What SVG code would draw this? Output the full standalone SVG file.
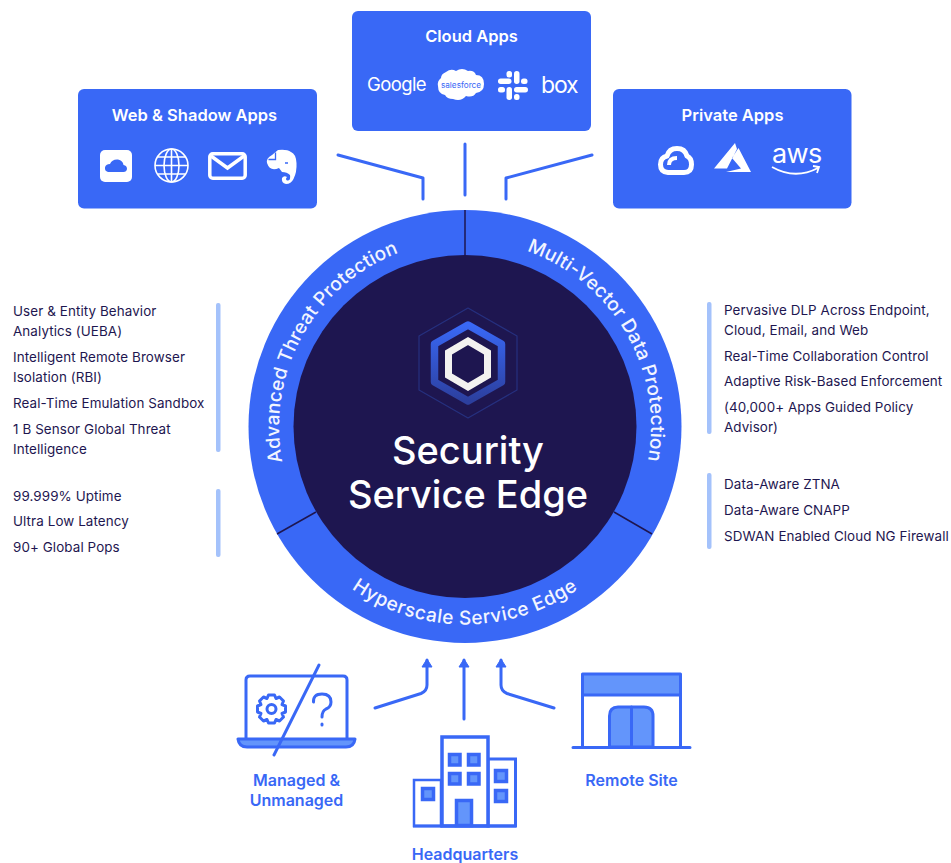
<svg xmlns="http://www.w3.org/2000/svg" width="951" height="863" viewBox="0 0 951 863">
<style>
.box{fill:#3968f6}
.title{font:600 16.500px Inter,"Liberation Sans",sans-serif;fill:#fff;text-anchor:middle}
.lab{font:600 16px Inter,"Liberation Sans",sans-serif;fill:#3968f6;text-anchor:middle}
.li{font:400 13.400px Inter,"Liberation Sans",sans-serif;fill:#1e1650;letter-spacing:.1px}
.bar{fill:#a4c2fb}
.arc{font:500 19px Inter,"Liberation Sans",sans-serif;fill:#f2f5ff;text-anchor:middle;letter-spacing:.2px}
.arcb{letter-spacing:.55px}
.hero{font:500 38px Inter,"Liberation Sans",sans-serif;fill:#fff;text-anchor:middle}
.conn{fill:none;stroke:#3968f6;stroke-width:3;stroke-linecap:round;stroke-linejoin:round}
.ic{fill:none;stroke:#3968f6;stroke-width:3;stroke-linecap:round;stroke-linejoin:round}
.icf{fill:#6395fb;stroke:#3968f6;stroke-width:3;stroke-linejoin:round}
.sq{fill:#6395fb;stroke:#3968f6;stroke-width:3.500}
.w{fill:none;stroke:#fff;stroke-width:1.600}
.wt{fill:#fff;font-family:Inter,"Liberation Sans",sans-serif}
.div{stroke:#1e1650;stroke-width:1.500}
</style>
<defs>
<marker id="ah" markerUnits="userSpaceOnUse" markerWidth="12" markerHeight="12" refX="6" refY="2" orient="0" viewBox="0 0 12 12"><path d="M6 1L11 9H1Z" fill="#3968f6" stroke="#3968f6" stroke-linejoin="round"/></marker>
<linearGradient id="hexg" x1="0" y1="0" x2="0" y2="1"><stop offset="0" stop-color="#3968f6"/><stop offset="1" stop-color="#2c3f9e"/></linearGradient>
<path id="arcL" d="M372 587.600A186 186 0 1 1 558 265.400"/>
<path id="arcR" d="M372 265.400A186 186 0 1 1 558 587.600"/>
<path id="arcB" d="M267 426.500A198 198 0 0 0 663 426.500"/>
</defs>

<g id="ring">
<circle cx="465" cy="426.500" r="216.500" fill="#3968f6"/>
<circle cx="465" cy="426.500" r="171.500" fill="#1e1650"/>
<path class="div" d="M465 210V256M277 534L316 512M614 512L652 534"/>
<text class="arc"><textPath href="#arcL" startOffset="49.500%">Advanced Threat Protection</textPath></text>
<text class="arc"><textPath href="#arcR" startOffset="50%">Multi-Vector Data Protection</textPath></text>
<text class="arc arcb"><textPath href="#arcB" startOffset="50%">Hyperscale Service Edge</textPath></text>
</g>

<g id="core">
<path fill="none" stroke="#26307f" stroke-width="1.200" stroke-linejoin="round" d="M468 308L517 336V390L468 418L419 390V336Z"/>
<path fill="none" stroke="url(#hexg)" stroke-width="7.500" stroke-linejoin="round" d="M468 325L501.500 344V382L468 401L434.500 382V344Z"/>
<path fill="none" stroke="#f3f2f0" stroke-width="7" d="M468 341L487.500 352.500V375.500L468 387L448.500 375.500V352.500Z"/>
<text class="hero" x="468" y="464">Security</text>
<text class="hero" x="468" y="508">Service Edge</text>
</g>

<g id="connectors">
<path class="conn" d="M338 155L423 178V199"/>
<path class="conn" d="M465 144V195"/>
<path class="conn" d="M592 155L506 178V199"/>
<path class="conn" marker-end="url(#ah)" d="M375 708L421 693.500Q427 691 427 685V660"/>
<path class="conn" marker-end="url(#ah)" d="M464 719V660"/>
<path class="conn" marker-end="url(#ah)" d="M554 708L507 693.500Q501 691 501 685V660"/>
</g>

<g id="web-shadow-apps">
<rect class="box" x="78" y="89" width="239" height="119.500" rx="6"/>
<text class="title" x="194.500" y="120.500">Web &amp; Shadow Apps</text>
<rect x="100" y="150" width="32" height="32" rx="5" fill="#fff"/>
<path fill="#3968f6" d="M108 172Q104.500 171 105 167.500Q105.500 164 110 164Q112 159 118 159.500Q123 160.500 123.500 165Q127 165.500 127 169Q126.500 172 123.500 172Z"/>
<g class="w"><circle cx="171.500" cy="165.500" r="16.500"/><ellipse cx="171.500" cy="165.500" rx="7.500" ry="16.500"/><path d="M171.500 149V182M155 165.500H188M158 157H185M158 174H185"/></g>
<rect x="209.800" y="153.800" width="35.400" height="24.400" rx="3" fill="none" stroke="#fff" stroke-width="3.500"/>
<path d="M211 156L227.500 168L244 156" fill="none" stroke="#fff" stroke-width="3.500"/>
<path fill="#fff" d="M272 155L278 150Q287 149 291 152Q296 154 296.500 163Q297 172 293.500 179Q291 184 286 184Q281 183 282 178Q284 175 287 177Q285 179 287 180.500Q291 181 290 175Q287 172 282 172L279 168Q270 172 267 163Q266 158 272 155Z"/>
<path fill="none" stroke="#3968f6" stroke-width="1.300" d="M268.500 159.500H275.500V152.500M285 163H288"/>
</g>

<g id="cloud-apps">
<rect class="box" x="352" y="11" width="239" height="120" rx="6"/>
<text class="title" x="471.500" y="42">Cloud Apps</text>
<text class="wt" x="367" y="91" font-size="18.500" letter-spacing="-.6">Google</text>
<path fill="#fff" d="M446 72Q451 68 456 71Q462 67 468 71Q474 70 476 75Q484 75 484 84Q484 92 476 93Q473 98 466 96Q461 102 453 99Q447 99 445 95Q438 94 438 86Q437 81 441 78Q441 74 446 72Z"/>
<text x="461" y="88" font-size="8.200" fill="#3968f6" text-anchor="middle" font-family="Inter,Liberation Sans,sans-serif">salesforce</text>
<g fill="#fff">
<rect x="498" y="78.500" width="13.500" height="5.500" rx="2.700"/><rect x="506.500" y="71" width="5.500" height="6.500" rx="2.500"/>
<rect x="514" y="71" width="5.500" height="13" rx="2.700"/><rect x="521" y="78.500" width="6.500" height="5.500" rx="2.500"/>
<rect x="514" y="87" width="14" height="5.500" rx="2.700"/><rect x="514" y="94" width="5.500" height="6" rx="2.500"/>
<rect x="506.500" y="87" width="5.500" height="13" rx="2.700"/><rect x="498" y="87" width="7" height="5.500" rx="2.500"/>
</g>
<text class="wt" x="541" y="93" font-size="23" letter-spacing="-1.200">box</text>
</g>

<g id="private-apps">
<rect class="box" x="613" y="89" width="238.500" height="119.500" rx="6"/>
<text class="title" x="732.500" y="120.500">Private Apps</text>
<path fill="none" stroke="#fff" stroke-width="5" stroke-linejoin="round" d="M668 172.500Q660.500 172 660.500 164.500Q660.500 157.500 667 156Q669 148.500 677 148.500Q685 148.500 687 156Q691.500 158 691.500 164.500Q691.500 172.500 684 172.500Z"/>
<path fill="none" stroke="#fff" stroke-width="4" d="M669 165Q669 158 677 158"/>
<path fill="#fff" d="M735 143L714 168.500H727L737 149ZM738.500 148L751 172H726L741 168.500L732 158Z"/>
<text class="wt" x="772" y="163" font-size="27" letter-spacing="-.6">aws</text>
<path fill="none" stroke="#fff" stroke-width="1.800" d="M772 167Q795 180 818 168M813 166L819 167L817 173"/>
</g>

<g id="left-list">
<rect class="bar" x="216" y="303" width="4.500" height="149" rx="2"/>
<rect class="bar" x="216" y="489" width="4.500" height="68" rx="2"/>
<text class="li" x="13" y="316">User &amp; Entity Behavior</text>
<text class="li" x="13" y="336">Analytics (UEBA)</text>
<text class="li" x="13" y="362">Intelligent Remote Browser</text>
<text class="li" x="13" y="382">Isolation (RBI)</text>
<text class="li" x="13" y="408">Real-Time Emulation Sandbox</text>
<text class="li" x="13" y="434">1 B Sensor Global Threat</text>
<text class="li" x="13" y="454">Intelligence</text>
<text class="li" x="13" y="501">99.999% Uptime</text>
<text class="li" x="13" y="526">Ultra Low Latency</text>
<text class="li" x="13" y="552">90+ Global Pops</text>
</g>

<g id="right-list">
<rect class="bar" x="707" y="302" width="4.500" height="132" rx="2"/>
<rect class="bar" x="707" y="473" width="4.500" height="76" rx="2"/>
<text class="li" x="724" y="315">Pervasive DLP Across Endpoint,</text>
<text class="li" x="724" y="335">Cloud, Email, and Web</text>
<text class="li" x="724" y="361">Real-Time Collaboration Control</text>
<text class="li" x="724" y="386">Adaptive Risk-Based Enforcement</text>
<text class="li" x="724" y="412">(40,000+ Apps Guided Policy</text>
<text class="li" x="724" y="432">Advisor)</text>
<text class="li" x="724" y="489">Data-Aware ZTNA</text>
<text class="li" x="724" y="515">Data-Aware CNAPP</text>
<text class="li" x="724" y="541">SDWAN Enabled Cloud NG Firewall</text>
</g>

<g id="managed-unmanaged">
<path class="ic" d="M246 738V680Q246 676 250 676H343Q347 676 347 680V738"/>
<path class="icf" d="M238 739H355Q354 747 346 747H247Q239 747 238 739Z"/>
<path class="ic" d="M319 665L274 755"/>
<circle class="ic" cx="271.500" cy="709" r="4.500"/>
<path class="ic" stroke-width="2.500" d="M268.500 695H274.500L276 698.500L279.500 697L283.500 701L282 704.500L285.500 706V712L282 713.500L283.500 717L279.500 721L276 719.500L274.500 723H268.500L267 719.500L263.500 721L259.500 717L261 713.500L257.500 712V706L261 704.500L259.500 701L263.500 697L267 698.500Z"/>
<path class="ic" d="M313.500 702Q313 694 322 694Q331 694 331 702Q331 707 326 709Q322 711 322 717M322 724V725"/>
<text class="lab" x="296.500" y="786">Managed &amp;</text>
<text class="lab" x="296.500" y="806">Unmanaged</text>
</g>

<g id="headquarters">
<path fill="#fff" stroke="#3968f6" stroke-width="2.500" d="M414 826V780H441V826Z"/>
<path fill="#fff" stroke="#3968f6" stroke-width="3" d="M488 759H515.500V826H488Z"/>
<rect x="442" y="737" width="46" height="89" fill="#fff" stroke="#3968f6" stroke-width="3.500"/>
<path d="M413 826H516" stroke="#3968f6" stroke-width="3"/>
<rect class="sq" x="449.500" y="754.500" width="10.500" height="10.500"/>
<rect class="sq" x="468.500" y="754.500" width="10.500" height="10.500"/>
<rect class="sq" x="449.500" y="773.500" width="10.500" height="10.500"/>
<rect class="sq" x="468.500" y="773.500" width="10.500" height="10.500"/>
<rect class="sq" x="495.500" y="770.500" width="11" height="11"/>
<rect class="sq" x="495.500" y="790.500" width="11" height="11"/>
<rect class="sq" x="422.500" y="788.500" width="11" height="11"/>
<rect class="sq" x="456.500" y="800.500" width="15" height="25"/>
<text class="lab" x="465" y="860">Headquarters</text>
</g>

<g id="remote-site">
<path class="icf" d="M582.500 674H680.500V695H582.500Z"/>
<path class="ic" d="M582.500 695V747M680.500 695V747"/>
<path class="icf" d="M609.500 747V716Q609.500 707 618 707H644Q653 707 653 716V747Z"/>
<path class="ic" d="M631.500 707V747M573 747.500H690"/>
<text class="lab" x="631.500" y="786">Remote Site</text>
</g>
</svg>
